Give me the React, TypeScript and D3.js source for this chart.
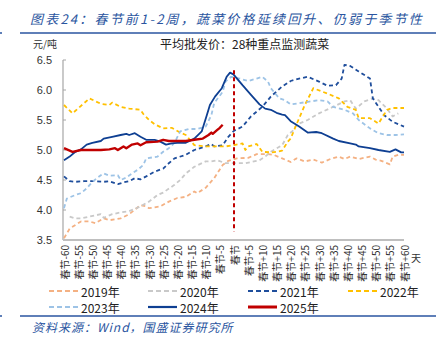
import React from "react";
import * as d3 from "d3";

const xTicks = [-60, -55, -50, -45, -40, -35, -30, -25, -20, -15, -10, -5, 0, 5, 10, 15, 20, 25, 30, 35, 40, 45, 50, 55, 60];
const xTickLabels = xTicks.map((d) => (d === 0 ? "春节" : d > 0 ? `春节+${d}` : `春节${d}`));
const yTicks = [3.5, 4.0, 4.5, 5.0, 5.5, 6.0, 6.5];

const s2019: [number, number][] = [[-60,3.53],[-58,3.69],[-54,3.81],[-51,3.81],[-49,3.78],[-46,3.86],[-44,3.83],[-40,3.86],[-37,3.93],[-33,4.08],[-31,4.06],[-30,4.03],[-26,4.06],[-23,4.14],[-20,4.2],[-17,4.22],[-14,4.31],[-13,4.28],[-10,4.37],[-7,4.53],[-4,4.75],[-2,4.82],[1,4.86],[5,4.87],[8,4.93],[12,4.93],[14,4.92],[17,4.86],[20,4.8],[22,4.86],[25,4.81],[28,4.84],[31,4.79],[34,4.85],[37,4.89],[39,4.85],[41,4.89],[44,4.85],[48,4.89],[50,4.84],[52,4.82],[55,4.76],[56,4.89],[58,4.92],[60,4.92]];
const s2020: [number, number][] = [[-58,3.89],[-56,3.86],[-54,3.86],[-51,3.89],[-47,3.93],[-46,3.87],[-43,3.93],[-40,3.96],[-37,3.98],[-33,4.06],[-30,4.14],[-27,4.25],[-25,4.29],[-21,4.42],[-19,4.5],[-17,4.61],[-14,4.72],[-10,4.81],[-8,4.81],[-6,4.83],[-3,4.78],[0,4.78],[4,4.78],[7,4.81],[9,4.83],[11,4.89],[13,4.97],[17,5.08],[19,5.25],[21,5.33],[22,5.42],[26,5.5],[30,5.61],[35,5.72],[39,5.81],[41,5.83],[43,5.69],[46,5.81],[49,5.86],[51,5.83],[54,5.69],[56,5.56],[58,5.61]];
const s2021: [number, number][] = [[-60,4.56],[-58,4.48],[-56,4.47],[-53,4.48],[-51,4.48],[-49,4.48],[-46,4.47],[-44,4.48],[-41,4.43],[-39,4.46],[-37,4.48],[-35,4.53],[-33,4.51],[-31,4.56],[-28,4.64],[-25,4.69],[-23,4.78],[-21,4.86],[-17,4.92],[-14,5.0],[-10,5.06],[-8,5.1],[-7,5.06],[-4,5.08],[-2,5.22],[0,5.32],[3,5.39],[6,5.56],[10,5.72],[13,5.89],[17,6.06],[20,6.15],[23,6.19],[26,6.22],[30,6.14],[33,6.07],[36,6.08],[38,6.19],[39,6.42],[41,6.4],[44,6.31],[48,6.19],[49,5.86],[51,5.72],[53,5.58],[56,5.47],[60,5.39]];
const s2022: [number, number][] = [[-60,5.75],[-57,5.61],[-51,5.86],[-47,5.77],[-44,5.75],[-43,5.79],[-40,5.72],[-37,5.69],[-33,5.67],[-32,5.6],[-30,5.5],[-28,5.43],[-25,5.36],[-22,5.37],[-19,5.29],[-17,5.25],[-14,5.08],[-10,5.06],[-7,5.06],[-3,5.06],[0,5.08],[3,5.11],[4,5.0],[5,5.06],[8,5.1],[10,4.97],[13,4.96],[15,4.97],[17,4.99],[19,5.14],[20,5.19],[22,5.42],[25,5.75],[28,6.03],[33,5.94],[37,5.86],[40,5.72],[43,5.67],[44,5.53],[48,5.53],[51,5.44],[54,5.67],[56,5.7],[60,5.7]];
const s2023: [number, number][] = [[-60,4.03],[-59,4.19],[-56,4.25],[-54,4.28],[-52,4.36],[-50,4.47],[-47,4.58],[-46,4.61],[-44,4.57],[-41,4.58],[-40,4.5],[-38,4.54],[-36,4.61],[-34,4.67],[-32,4.75],[-31,4.86],[-27,4.89],[-25,4.97],[-23,5.03],[-21,5.12],[-19,5.31],[-16,5.35],[-13,5.35],[-10,5.39],[-8,5.58],[-7,5.78],[-4,5.97],[-3,6.14],[-1,6.22],[2,6.19],[5,6.15],[8,6.19],[10,6.22],[12,6.14],[13,6.03],[16,5.86],[18,5.83],[20,5.76],[23,5.78],[27,5.81],[30,5.83],[33,5.81],[35,5.72],[39,5.67],[42,5.61],[44,5.5],[48,5.36],[51,5.28],[54,5.25],[57,5.25],[60,5.26]];
const s2024: [number, number][] = [[-60,4.83],[-58,4.89],[-56,4.97],[-54,5.01],[-52,5.09],[-50,5.12],[-47,5.15],[-46,5.19],[-43,5.22],[-40,5.25],[-38,5.27],[-37,5.25],[-35,5.28],[-33,5.22],[-31,5.17],[-28,5.17],[-26,5.14],[-24,5.09],[-22,5.11],[-20,5.12],[-17,5.12],[-14,5.19],[-11.4,5.31],[-9.6,5.58],[-8.5,5.75],[-6.7,5.89],[-4.3,6.03],[-2.6,6.22],[-1.4,6.29],[-0.2,6.26],[3,6.08],[6,5.92],[9,5.76],[11,5.69],[13,5.67],[15,5.62],[17,5.59],[18,5.58],[20,5.48],[23,5.39],[26,5.29],[29,5.3],[31,5.28],[35,5.19],[37,5.15],[41,5.11],[43,5.09],[44,5.06],[48,5.03],[51,5.0],[55,4.97],[57,5.01],[59,4.96],[60,4.96]];
const s2025: [number, number][] = [[-60,5.03],[-57,4.97],[-54,5.0],[-51,5.0],[-47,5.0],[-44,5.01],[-42,5.03],[-41,5.0],[-39,5.06],[-38,5.03],[-36,5.09],[-34,5.11],[-33,5.08],[-31,5.13],[-27,5.14],[-25,5.17],[-23,5.15],[-20,5.15],[-17,5.15],[-14,5.17],[-11,5.19],[-9,5.25],[-8,5.29],[-7.5,5.27],[-6,5.33],[-5,5.37],[-4,5.42]];

const markerTop = 6.33;
const markerBottom = 3.64;

const seriesNames = ["2019年", "2020年", "2021年", "2022年", "2023年", "2024年", "2025年"];
const seriesData = [s2019, s2020, s2021, s2022, s2023, s2024, s2025];
const seriesColors = ["#F4B183", "#C9C9C9", "#1F4E9C", "#FFC000", "#9DC3E6", "#0E3F92", "#C00000"];
const seriesDashed = [true, true, true, true, true, false, false];

const BLUE = "#2A55A0";
const NUM_FONT = "'Liberation Sans', Arial, sans-serif";
const CJK_FONT = "'Noto Sans CJK SC', 'Liberation Sans', sans-serif";

export default function App() {
  const x = d3.scaleLinear().domain([-60, 60]).range([64, 404]);
  const y = d3.scaleLinear().domain([3.5, 6.5]).range([240, 60]);
  const line = d3
    .line<[number, number]>()
    .x((d) => x(d[0]))
    .y((d) => y(d[1]));

  const legendPos = [
    [49, 291], [148, 291], [248, 291], [348, 291],
    [49, 307], [148, 307], [248, 307],
  ];

  return (
    <svg
      width={438}
      height={341}
      style={{ position: "absolute", left: 0, top: 0, background: "#fff" }}
    >
      <rect x={0} y={0} width={438} height={341} fill="#fff" />
      {/* title */}
      <text x={30} y={24} fontFamily={CJK_FONT} fontSize={13} fontStyle="italic" fill={BLUE} letterSpacing={2.2}>
        图表24：春节前1-2周，蔬菜价格延续回升、仍弱于季节性
      </text>
      <line x1={20} x2={436} y1={33} y2={33} stroke={BLUE} strokeWidth={1.5} />
      <line x1={0} x2={2} y1={33} y2={33} stroke={BLUE} strokeWidth={1.5} />
      <text x={33} y={48} fontFamily={CJK_FONT} fontSize={10} fill="#333">元/吨</text>
      <text x={160} y={49} fontFamily={CJK_FONT} fontSize={12} fill="#222">平均批发价：28种重点监测蔬菜</text>

      {/* y axis */}
      <line x1={63} x2={63} y1={60} y2={240} stroke="#A6A6A6" strokeWidth={1.2} />
      {yTicks.map((t) => (
        <g key={t}>
          <line x1={63} x2={66} y1={y(t)} y2={y(t)} stroke="#A6A6A6" strokeWidth={1} />
          <text
            x={52}
            y={y(t)}
            textAnchor="end"
            dominantBaseline="central"
            fontFamily={NUM_FONT}
            fontSize={11}
            fill="#333"
          >
            {t.toFixed(1)}
          </text>
        </g>
      ))}

      {/* series */}
      {seriesData.map((data, i) => (
        <path
          key={seriesNames[i]}
          d={line(data) || ""}
          fill="none"
          stroke={seriesColors[i]}
          strokeWidth={i === 6 ? 2.4 : 1.8}
          strokeDasharray={seriesDashed[i] ? "4,3" : undefined}
          strokeLinejoin="round"
        />
      ))}

      {/* marker line at Spring Festival */}
      <line
        x1={x(0)}
        x2={x(0)}
        y1={y(markerTop)}
        y2={y(markerBottom)}
        stroke="#C00000"
        strokeWidth={2}
        strokeDasharray="4,3"
      />

      {/* x axis */}
      <line x1={63} x2={404} y1={240} y2={240} stroke="#BFBFBF" strokeWidth={2} />
      {xTicks.map((t, i) => (
        <text
          key={t}
          transform={`translate(${x(t)},245) rotate(-90)`}
          textAnchor="end"
          dominantBaseline="central"
          fontFamily={CJK_FONT}
          fontSize={10}
          fill="#333"
        >
          {xTickLabels[i]}
        </text>
      ))}
      <text x={411} y={262} fontFamily={CJK_FONT} fontSize={10} fill="#333">天</text>

      {/* legend */}
      {seriesNames.map((n, i) => (
        <g key={n}>
          <line
            x1={legendPos[i][0]}
            x2={legendPos[i][0] + 29}
            y1={legendPos[i][1]}
            y2={legendPos[i][1]}
            stroke={seriesColors[i]}
            strokeWidth={i === 6 ? 3 : 2.2}
            strokeDasharray={seriesDashed[i] ? "5,3" : undefined}
          />
          <text
            x={legendPos[i][0] + 32}
            y={legendPos[i][1]}
            dominantBaseline="central"
            fontFamily={CJK_FONT}
            fontSize={12}
            fill="#222"
          >
            {n}
          </text>
        </g>
      ))}

      {/* source */}
      <line x1={20} x2={436} y1={316} y2={316} stroke={BLUE} strokeWidth={1.5} />
      <line x1={0} x2={2} y1={316} y2={316} stroke={BLUE} strokeWidth={1.5} />
      <text x={32} y={332} fontFamily={CJK_FONT} fontSize={12} fontStyle="italic" fill={BLUE} letterSpacing={1}>
        资料来源：Wind，国盛证券研究所
      </text>
    </svg>
  );
}
